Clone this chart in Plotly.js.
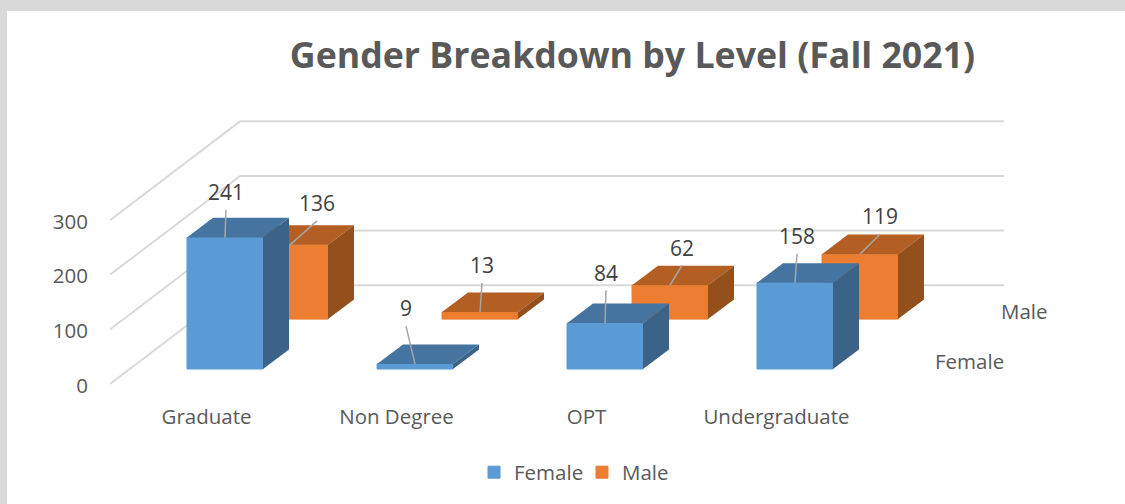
<!DOCTYPE html>
<html><head><meta charset="utf-8">
<script src="https://cdn.plot.ly/plotly-3.0.1.min.js"></script>
<style>
html,body{margin:0;padding:0;background:#d9d9d9;width:1125px;height:504px;overflow:hidden}
#chart{position:absolute;left:7px;top:11px;width:1118px;height:493px;background:#fff}
</style></head><body><div id="chart"></div>
<script>
// ---- data ----
const categories = ['Graduate','Non Degree','OPT','Undergraduate'];
const femaleValues = [241,9,84,158];
const maleValues = [136,13,62,119];
const gridValues = [0,100,200,300];
const seriesNames = ['Female','Male'];

// ---- oblique "3D" projection, in axis units ----
const PX_X = 190, PX_Y = 0.547;            // px per axis unit
const px2x = p => p/PX_X, px2y = p => p/PX_Y;
const xMin = -px2x(96.5), xMax = px2x(918.5), yMin = -px2y(3), yMax = px2y(284.5);
const barW = px2x(76);
const depthX = px2x(26), depthY = px2y(19.6);
const femaleShift = px2x(18.5), femaleBase = px2y(15);
const maleShift = femaleShift + px2x(65), maleBase = px2y(65);
const wallDX = px2x(130), wallDY = px2y(99), wallEnd = px2x(797.5);
const tickDrop = px2y(1.5);

// label offsets from the front top centre of each bar, in px
const femaleLabelDX = [1,-9,1,2], femaleLabelDY = [44.5,55,50,46];
const maleLabelDX = [27,2,12,20], maleLabelDY = [41,46,37,37];
const labelNudge = 2;

function polys(values, shift, base, kind){
  const xs=[], ys=[];
  values.forEach((v,i)=>{
    const l=i+shift-barW/2, r=i+shift+barW/2, t=base+v, b=base;
    const pts = kind==='top'
      ? [[l,t],[r,t],[r+depthX,t+depthY],[l+depthX,t+depthY],[l,t]]
      : [[r,b],[r,t],[r+depthX,t+depthY],[r+depthX,b+depthY],[r,b]];
    pts.forEach(p=>{xs.push(p[0]);ys.push(p[1]);});
    xs.push(null);ys.push(null);
  });
  return {x:xs,y:ys};
}
function poly(values,shift,base,kind,color,xa,ya){
  const p=polys(values,shift,base,kind);
  return {type:'scatter',mode:'lines',x:p.x,y:p.y,fill:'toself',fillcolor:color,
    line:{width:0,color:color},showlegend:false,hoverinfo:'skip',xaxis:xa,yaxis:ya};
}
function bars(name,values,shift,base,color,xa,ya,rank){
  return {type:'bar',name:name,x:values.map((v,i)=>i+shift),y:values,base:values.map(()=>base),
    width:barW,marker:{color:color,line:{width:1,color:color}},xaxis:xa,yaxis:ya,legendrank:rank,
    hovertemplate:'%{y}<extra>'+name+'</extra>'};
}
function leaders(values,shift,base,dx,dy,xa,ya){
  const xs=[],ys=[];
  values.forEach((v,i)=>{
    xs.push(i+shift+px2x(dx[i]), i+shift, null);
    ys.push(base+v+px2y(dy[i]-17), base+v, null);
  });
  return {type:'scatter',mode:'lines',x:xs,y:ys,line:{color:'#a6a6a6',width:1.5},
    showlegend:false,hoverinfo:'skip',xaxis:xa,yaxis:ya};
}
function labels(values,shift,base,dx,dy,xa,ya){
  return {type:'scatter',mode:'text',x:values.map((v,i)=>i+shift+px2x(dx[i])),
    y:values.map((v,i)=>base+v+px2y(dy[i]-labelNudge)),text:values.map(String),textposition:'middle center',
    textfont:{family:'Open Sans',size:21,color:'#404040'},showlegend:false,hoverinfo:'skip',
    cliponaxis:false,xaxis:xa,yaxis:ya};
}
// gridlines: front-left diagonal, then along the back wall
const gx=[],gy=[];
gridValues.forEach(v=>{gx.push(xMin,xMin+wallDX,wallEnd,null);gy.push(v,v+wallDY,v+wallDY,null);});
const grid={type:'scatter',mode:'lines',x:gx,y:gy,line:{color:'#d9d9d9',width:2},showlegend:false,hoverinfo:'skip',cliponaxis:false};

const traces=[
  grid,
  bars(seriesNames[1],maleValues,maleShift,maleBase,'#ed7d31','x2','y2',2),
  poly(maleValues,maleShift,maleBase,'top','#b35e22','x2','y2'),
  poly(maleValues,maleShift,maleBase,'side','#94501c','x2','y2'),
  bars(seriesNames[0],femaleValues,femaleShift,femaleBase,'#5b9bd5','x3','y3',1),
  poly(femaleValues,femaleShift,femaleBase,'top','#44749f','x3','y3'),
  poly(femaleValues,femaleShift,femaleBase,'side','#3a6387','x3','y3'),
  leaders(maleValues,maleShift,maleBase,maleLabelDX,maleLabelDY,'x3','y3'),
  leaders(femaleValues,femaleShift,femaleBase,femaleLabelDX,femaleLabelDY,'x3','y3'),
  labels(maleValues,maleShift,maleBase,maleLabelDX,maleLabelDY,'x3','y3'),
  labels(femaleValues,femaleShift,femaleBase,femaleLabelDX,femaleLabelDY,'x3','y3')
];
const tickFont={family:'Open Sans',size:20.5,color:'#595959'};
const layout={
  width:1118,height:493,paper_bgcolor:'#fff',plot_bgcolor:'rgba(0,0,0,0)',
  margin:{l:103,r:0,t:89,b:116.5},barmode:'overlay',showlegend:true,
  title:{text:'<b>Gender Breakdown by Level (Fall 2021)</b>',font:{family:'Open Sans',size:35.7,color:'#595959'},
    x:625.5/1118,xanchor:'center',xref:'container',y:1-45/493,yanchor:'middle',yref:'container'},
  xaxis:{range:[xMin,xMax],tickmode:'array',tickvals:categories.map((c,i)=>i),ticktext:categories,
    showgrid:false,zeroline:false,showline:false,ticks:'',tickfont:tickFont,ticklabelstandoff:15},
  yaxis:{range:[yMin,yMax],tickmode:'array',tickvals:gridValues.map(v=>v-tickDrop),ticktext:gridValues.map(String),
    showgrid:false,zeroline:false,showline:false,ticks:'',tickfont:tickFont,ticklabelstandoff:21},
  xaxis2:{range:[xMin,xMax],overlaying:'x',visible:false},
  yaxis2:{range:[yMin,yMax],overlaying:'y',visible:false},
  xaxis3:{range:[xMin,xMax],overlaying:'x',visible:false},
  yaxis3:{range:[yMin,yMax],overlaying:'y',visible:false},
  legend:{orientation:'h',x:364/1015,xanchor:'left',y:-85.5/287.5,yanchor:'middle',entrywidth:63,
    font:{family:'Open Sans',size:20.5,color:'#595959'},itemwidth:30,bgcolor:'rgba(0,0,0,0)'},
  annotations:[
    {text:seriesNames[1],xref:'x',yref:'y',x:px2x(1050-206.5),y:px2y(384.5-311),xanchor:'right',yanchor:'middle',showarrow:false,font:tickFont},
    {text:seriesNames[0],xref:'x',yref:'y',x:px2x(1006-206.5),y:px2y(384.5-361),xanchor:'right',yanchor:'middle',showarrow:false,font:tickFont}
  ]
};
Plotly.newPlot('chart',traces,layout,{displayModeBar:false,responsive:false});
</script></body></html>
